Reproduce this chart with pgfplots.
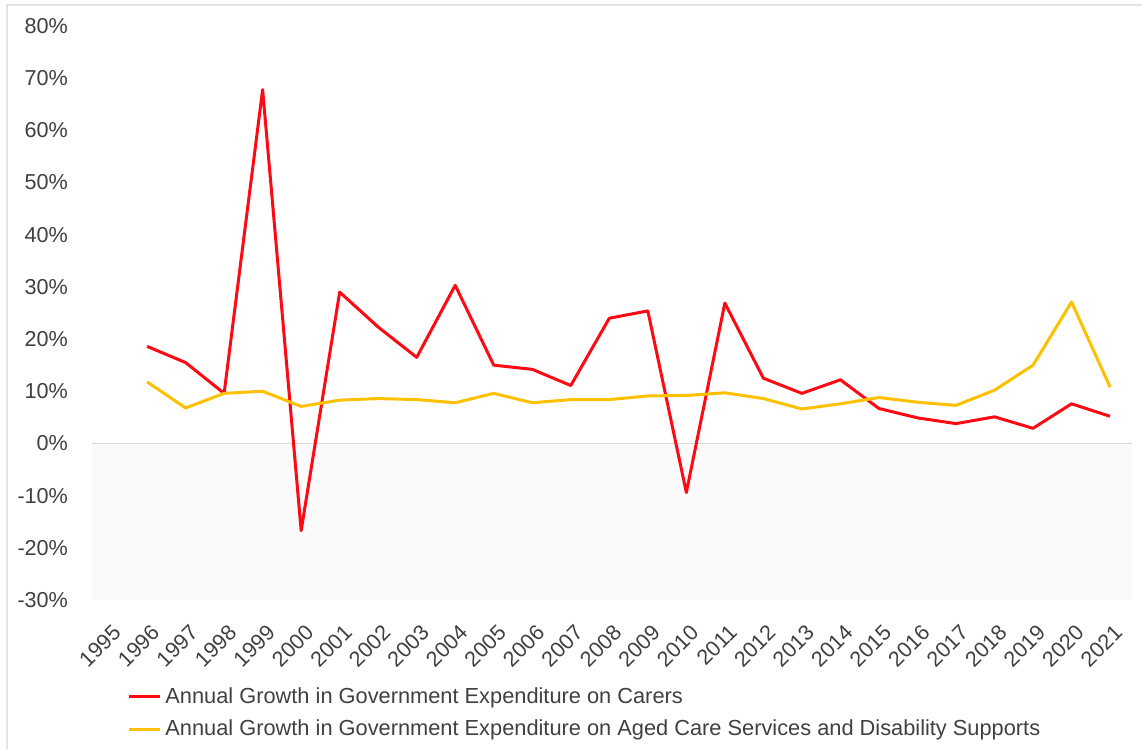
\documentclass[border=0pt]{standalone}
\usepackage{pgfplots}
\pgfplotsset{compat=1.18}
\usepackage{fontspec}
\setmainfont{Liberation Sans}
\definecolor{carers}{HTML}{FF0A14}
\definecolor{aged}{HTML}{FFC000}
\definecolor{txt}{HTML}{404040}
\begin{document}
\begin{tikzpicture}
\useasboundingbox (0,0) rectangle (571pt,374.5pt);
\draw[gray!22, line width=1.2pt] (3.5pt,-10pt) rectangle (600pt,372pt);
\begin{axis}[
    at={(46pt,74.5pt)}, anchor=south west,
    scale only axis, width=520pt, height=287pt,
    xmin=1994.57, xmax=2021.57,
    ymin=-30, ymax=80,
    axis line style={draw=none},
    major tick length=0pt,
    xtick={1995,...,2021},
    xticklabels={1995,1996,1997,1998,1999,2000,2001,2002,2003,2004,2005,2006,2007,2008,2009,2010,2011,2012,2013,2014,2015,2016,2017,2018,2019,2020,2021},
    ytick={-30,-20,...,80},
    yticklabels={-30\%,-20\%,-10\%,0\%,10\%,20\%,30\%,40\%,50\%,60\%,70\%,80\%},
    tick label style={font=\fontsize{10.8}{12}\selectfont, text=txt},
    yticklabel style={xshift=-8.5pt},
    xticklabel style={yshift=-10pt, xshift=1.5pt, rotate=45, anchor=north east, inner sep=1pt},
    legend style={at={(0.0337,-0.1446)}, anchor=north west, draw=none, fill=none,
        font=\fontsize{10.9}{12}\selectfont, text=txt, inner sep=0pt,
        row sep=3pt, cells={anchor=west}},
    legend cell align=left,
    legend image code/.code={\draw[#1] (0pt,0pt) -- (15.5pt,0pt);},
]
\fill[gray!4] (axis cs:1994.57,-30) rectangle (axis cs:2021.57,0);
\draw[gray!30, line width=0.8pt] (axis cs:1994.57,0) -- (axis cs:2021.57,0);

% Carers
\addplot[carers, line width=1.5pt, line join=round] coordinates {
(1996,18.6) (1997,15.5) (1998,9.6) (1999,67.8) (2000,-16.7) (2001,29.0)
(2002,22.3) (2003,16.5) (2004,30.3) (2005,15.0) (2006,14.2) (2007,11.1)
(2008,24.0) (2009,25.4) (2010,-9.4) (2011,26.9) (2012,12.5) (2013,9.6)
(2014,12.2) (2015,6.7) (2016,4.9) (2017,3.8) (2018,5.1) (2019,2.9)
(2020,7.6) (2021,5.2)
};
\addlegendentry{Annual Growth in Government Expenditure on Carers}

% Aged care and disability
\addplot[aged, line width=1.5pt, line join=round] coordinates {
(1996,11.8) (1997,6.8) (1998,9.6) (1999,10.0) (2000,7.1) (2001,8.3)
(2002,8.6) (2003,8.4) (2004,7.8) (2005,9.6) (2006,7.8) (2007,8.4)
(2008,8.4) (2009,9.1) (2010,9.2) (2011,9.7) (2012,8.6) (2013,6.6)
(2014,7.6) (2015,8.8) (2016,7.9) (2017,7.3) (2018,10.2) (2019,15.0)
(2020,27.1) (2021,10.8)
};
\addlegendentry{Annual Growth in Government Expenditure on Aged Care Services and Disability Supports}
\end{axis}
\end{tikzpicture}
\end{document}
